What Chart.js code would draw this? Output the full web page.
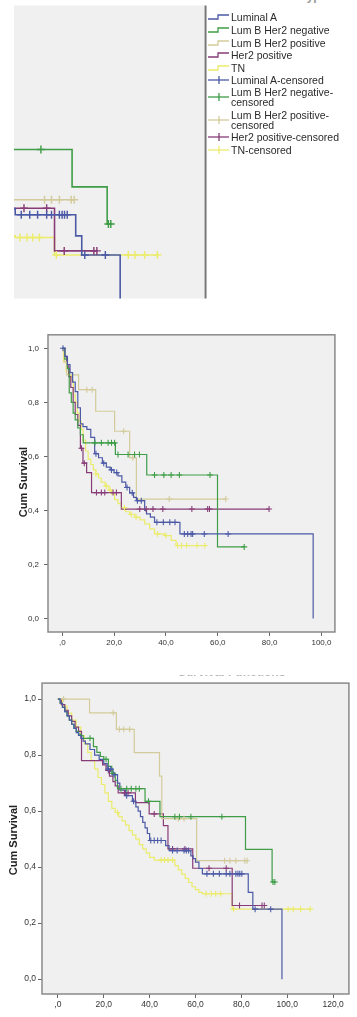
<!DOCTYPE html>
<html>
<head>
<meta charset="utf-8">
<script src="https://cdn.jsdelivr.net/npm/chart.js@4"></script>
<style>
  html, body { margin:0; padding:0; background:#fff; }
  body { width:357px; height:1017px; position:relative; overflow:hidden; font-family:"Liberation Sans", Arial, sans-serif; }
  canvas { position:absolute; }
  .lg { position:absolute; left:208px; display:flex; align-items:center; }
  .lg svg { flex:none; }
  .lg .t { margin-left:1px; font-size:10.5px; line-height:10px; color:#2a2a2a; width:126px; }
  .ylab { position:absolute; font-weight:bold; font-size:11px; color:#222; white-space:nowrap; transform:translate(-50%,-50%) rotate(-90deg); }
</style>
</head>
<body>
<canvas id="c1" width="210" height="304" style="left:0;top:0;width:210px;height:304px"></canvas>
<canvas id="c2" width="340" height="325" style="left:0;top:325px;width:340px;height:325px"></canvas>
<canvas id="c3" width="354" height="341" style="left:0;top:676px;width:354px;height:341px"></canvas>

<div style="position:absolute;left:222px;top:-10px;font-weight:bold;font-size:12px;line-height:12px;color:#999;white-space:nowrap">Molecular subtype</div>
<div style="position:absolute;left:178px;top:675px;width:112px;height:4px;overflow:hidden">
  <div style="position:relative;top:-9px;font-weight:bold;font-size:12px;line-height:12px;color:#b4b4b4;white-space:nowrap">Survival Functions</div>
</div>
<div class="ylab" style="left:23px;top:482px">Cum Survival</div>
<div class="ylab" style="left:13px;top:840px">Cum Survival</div>
<div id="legend"></div>

<script>
// ---------- categories ----------
const groups = ['Luminal A', 'Lum B Her2 negative', 'Lum B Her2 positive', 'Her2 positive', 'TN'];
const legendLabels = ['Luminal A', 'Lum B Her2 negative', 'Lum B Her2 positive', 'Her2 positive', 'TN',
  'Luminal A-censored', 'Lum B Her2 negative-censored', 'Lum B Her2 positive-censored',
  'Her2 positive-censored', 'TN-censored'];

// ---------- middle plot (event times, survival after event, censor times) ----------
const midLumA_t = [0, 1, 2, 3, 4, 5, 6, 7, 8, 9.5, 11, 12.5, 14, 15.5, 17, 18.5, 20, 21.5, 23, 24.5, 26, 27.5, 28.6, 31.8, 32.5, 34, 35.6, 45.4, 96.8];
const midLumA_s = [1.0, .97, .94, .91, .875, .84, .78, .72, .71, .70, .67, .61, .595, .575, .56, .55, .54, .528, .505, .485, .465, .448, .436, .40, .387, .375, .356, .313, 0];
const midLumA_c = [0.3, 13, 16, 19, 21, 25, 27, 29, 30.5, 36.5, 39, 41.5, 43.5, 47.1, 48.4, 49.7, 50.3, 54.8, 64];

const midLumBneg_t = [0, 1, 2, 2.7, 3.5, 4.2, 5, 6, 7, 8.1, 20.5, 32.6, 59.9];
const midLumBneg_s = [1.0, .96, .925, .835, .80, .76, .735, .705, .68, .65, .607, .531, .265];
const midLumBneg_c = [12.6, 15.1, 17.7, 19, 20.2, 21.5, 25.4, 27.9, 29.8, 35.6, 39.2, 42, 45.2, 57, 70.2];

const midLumBpos_t = [0, 0.8, 1.7, 6.3, 12.9, 20.2, 26, 28.6];
const midLumBpos_s = [1.0, .95, .902, .847, .767, .693, .595, .442];
const midLumBpos_c = [9.5, 11.5, 23.7, 27.2, 41.3, 63.1];

const midHer2_t = [0, 1, 1.7, 2.5, 3.3, 4.2, 5, 6, 7, 8, 9.4, 11.3, 22.8];
const midHer2_s = [1.0, .97, .935, .895, .855, .80, .755, .715, .63, .575, .54, .466, .405];
const midHer2_c = [7.4, 8.5, 13.2, 15.1, 16.4, 19.6, 20.9, 29.9, 32.4, 35, 38.8, 50, 56.1, 56.8, 79.8];

const midTN_t = [0, 0.5, 1.5, 2.5, 3.5, 4.3, 5, 5.8, 6.5, 7.3, 8, 9, 10, 11, 12, 13, 14, 15, 16.5, 18, 19, 20.2, 21.5, 22.8, 24.5, 26, 28, 30, 31.8, 33.7, 35.6, 39.5, 42, 43.9];
const midTN_s = [1.0, .95, .915, .9, .88, .83, .8, .76, .73, .70, .66, .62, .59, .57, .55, .535, .52, .505, .49, .475, .46, .44, .425, .41, .395, .385, .375, .365, .35, .332, .313, .307, .289, .27];
const midTN_c = [13, 17, 18.5, 24, 26.6, 28.5, 36.8, 40, 44.5, 46, 48, 52, 55];

// ---------- bottom plot (the top crop shows a zoom of this plot) ----------
const botLumA_t = [0, 1, 2, 3, 4, 5, 6, 7, 8, 9, 10, 11, 12, 14, 16, 18, 20, 21.5, 24, 26, 27, 29.5, 32.5, 34, 35, 36, 37, 38, 39, 40, 47, 48.5, 58, 59, 60, 61.5, 63, 83, 85, 97.7];
const botLumA_s = [1.0, .985, .97, .955, .94, .925, .91, .895, .88, .87, .86, .85, .84, .82, .80, .785, .77, .75, .73, .70, .675, .655, .635, .615, .60, .58, .56, .54, .52, .495, .477, .459, .44, .43, .418, .395, .376, .31, .25, 0];
const botLumA_c = [22, 23, 24.5, 30, 33, 40.5, 42, 43.5, 45, 50, 52, 55, 56, 57, 65, 67.8, 70.4, 73.4, 75, 77.6, 78.5, 79.3, 80.2, 86, 92.8];

const botLumBneg_t = [0, 1, 2, 3, 4, 5, 6, 7, 8, 9, 10, 11, 15.5, 17, 18.5, 20, 22, 23.5, 25, 26, 38, 44.5, 81.8, 93.4];
const botLumBneg_s = [1.0, .985, .97, .955, .94, .925, .91, .895, .885, .875, .87, .86, .83, .81, .795, .785, .76, .735, .71, .68, .635, .58, .463, .347];
const botLumBneg_c = [14, 21, 24, 27.5, 30, 32, 34, 35.5, 39.5, 51, 53, 58, 71.5, 93.8, 94.6];

const botLumBpos_t = [0, 13.8, 25.5, 33.3, 44.3, 45.3, 60.5];
const botLumBpos_s = [1.0, .951, .892, .809, .725, .573, .423];
const botLumBpos_c = [2.5, 24.1, 26.8, 28.7, 31.3, 52.5, 55, 72.7, 75, 77.6, 81.5, 82.5];

const botHer2_t = [0, 1.5, 3, 4.5, 6, 7.5, 9, 10.3, 19.5, 21, 22.5, 24, 25, 26.3, 33.8, 39.8, 46, 48, 58.8, 76];
const botHer2_s = [1.0, .98, .96, .94, .92, .90, .885, .78, .765, .745, .725, .705, .69, .665, .63, .59, .548, .465, .396, .263];
const botHer2_c = [22, 29, 30.6, 42, 50, 55.4, 65.9, 73.4, 79.2, 89, 90];

const botTN_t = [0, 2, 4, 6, 8, 10, 11.5, 13, 14.5, 16, 17.5, 19, 20.5, 22, 23.5, 25, 26.5, 28, 29.5, 31, 32.5, 34, 35.5, 37, 38.5, 40, 42, 51, 52.5, 54, 55.5, 57, 58.5, 60, 61.5, 63, 76];
const botTN_s = [1.0, .975, .95, .925, .9, .87, .84, .81, .78, .75, .72, .695, .665, .635, .61, .595, .58, .565, .55, .53, .515, .5, .48, .465, .45, .435, .425, .405, .39, .375, .36, .345, .33, .32, .31, .305, .25];
const botTN_c = [26, 45, 46.5, 48, 50, 64.6, 66.9, 68.8, 71, 76.6, 100.4, 102.6, 105.8, 110];

// ---------- ticks ----------
const yTicks = [0, 0.2, 0.4, 0.6, 0.8, 1.0];
const xTicksMid = [0, 20, 40, 60, 80, 100];
const xTicksBot = [0, 20, 40, 60, 80, 100, 120];

const colors = ['#4b59a6', '#3f9d47', '#d3cb9b', '#873c77', '#ebeb6c'];

const midSeries = [
  [midLumA_t, midLumA_s, midLumA_c], [midLumBneg_t, midLumBneg_s, midLumBneg_c],
  [midLumBpos_t, midLumBpos_s, midLumBpos_c], [midHer2_t, midHer2_s, midHer2_c], [midTN_t, midTN_s, midTN_c]];
const botSeries = [
  [botLumA_t, botLumA_s, botLumA_c], [botLumBneg_t, botLumBneg_s, botLumBneg_c],
  [botLumBpos_t, botLumBpos_s, botLumBpos_c], [botHer2_t, botHer2_s, botHer2_c], [botTN_t, botTN_s, botTN_c]];

function survAt(ts, ss, t) {
  let v = ss[0];
  for (let i = 0; i < ts.length; i++) if (ts[i] <= t) v = ss[i];
  return v;
}

function buildDatasets(series, lw, pr) {
  const lines = [], marks = [];
  series.forEach(([ts, ss, cs], i) => {
    const pts = ts.map((t, k) => ({x: t, y: ss[k]}));
    const lastC = cs.length ? Math.max(...cs) : -1;
    if (lastC > ts[ts.length - 1]) pts.push({x: lastC, y: ss[ss.length - 1]});
    lines.push({label: groups[i], data: pts, stepped: 'before', borderColor: colors[i], borderWidth: lw,
      pointRadius: 0, fill: false, tension: 0});
    marks.push({label: groups[i] + '-censored', data: cs.map(t => ({x: t, y: survAt(ts, ss, t)})),
      showLine: false, pointStyle: 'cross', pointRadius: pr, pointBorderColor: colors[i],
      pointBorderWidth: lw * 0.9, borderColor: colors[i]});
  });
  const out = [];
  for (let i = 0; i < series.length; i++) { out.push(marks[i]); }
  for (let i = 0; i < series.length; i++) { out.push(lines[i]); }
  return out;
}

const boxPlugin = {
  id: 'box',
  beforeDraw(chart, args, o) {
    const {ctx, chartArea: a} = chart;
    ctx.save();
    ctx.fillStyle = o.bg || '#f0f0f0';
    ctx.fillRect(a.left, a.top, a.right - a.left, a.bottom - a.top);
    ctx.restore();
  },
  afterDraw(chart, args, o) {
    const {ctx, chartArea: a} = chart;
    ctx.save();
    if (o.border) {
      ctx.strokeStyle = o.border; ctx.lineWidth = 1.5;
      ctx.strokeRect(a.left, a.top, a.right - a.left, a.bottom - a.top);
    }
    if (o.rightLine) {
      ctx.strokeStyle = o.rightLine; ctx.lineWidth = 2;
      ctx.beginPath(); ctx.moveTo(a.right + 1, a.top); ctx.lineTo(a.right + 1, a.bottom); ctx.stroke();
    }
    ctx.restore();
  }
};

const fmtY = v => v.toFixed(1).replace('.', ',');
const fmtX = v => v === 0 ? ',0' : v.toFixed(1).replace('.', ',');

function axis(min, max, ticks, fmt, fit, isX, fontSize, pad) {
  return {
    type: 'linear', min, max,
    afterBuildTicks: ax => { ax.ticks = ticks.map(v => ({value: v})); },
    afterFit: s => { if (isX) s.height = fit; else s.width = fit; },
    grid: {drawOnChartArea: false, drawTicks: true, tickLength: 4, color: '#666', lineWidth: 1},
    border: {display: false},
    ticks: {autoSkip: false, maxRotation: 0, padding: pad, color: '#333',
      font: {family: '"Liberation Sans", Arial, sans-serif', size: fontSize}, callback: fmt}
  };
}

function makeChart(id, series, opts) {
  return new Chart(document.getElementById(id), {
    type: 'line',
    data: {datasets: buildDatasets(series, opts.lw, opts.pr)},
    options: {
      responsive: false, animation: false, devicePixelRatio: 1, events: [],
      layout: {padding: opts.padding},
      plugins: {legend: {display: false}, tooltip: {enabled: false}, box: opts.box},
      scales: opts.scales
    },
    plugins: [boxPlugin]
  });
}

// top: zoomed crop of the bottom plot, no axes
makeChart('c1', botSeries, {
  lw: 1.6, pr: 4,
  padding: {left: 14, right: 3, top: 0, bottom: 2},
  box: {bg: '#f0f0f0', rightLine: '#777'},
  scales: {
    x: {type: 'linear', min: 62.6, max: 125.6, display: false},
    y: {type: 'linear', min: 0.114, max: 1.03, display: false}
  }
});

makeChart('c2', midSeries, {
  lw: 1.2, pr: 3,
  padding: {left: 0, right: 4, top: 8, bottom: 0},
  box: {bg: '#f0f0f0', border: '#8a8a8a'},
  scales: {
    x: axis(-5.5, 105.2, xTicksMid, fmtX, 18, true, 8, 2),
    y: axis(-0.05, 1.05, yTicks, fmtY, 48, false, 8, 5)
  }
});

makeChart('c3', botSeries, {
  lw: 1.2, pr: 3,
  padding: {left: 0, right: 3, top: 6, bottom: 0},
  box: {bg: '#f0f0f0', border: '#8a8a8a'},
  scales: {
    x: axis(-6.93, 126.9, xTicksBot, fmtX, 23, true, 8.5, 2),
    y: axis(-0.053, 1.057, yTicks, fmtY, 42, false, 8.5, 2)
  }
});

// legend
const legendCenters = [16.5, 29.5, 42.5, 55, 67.5, 80, 97, 119.5, 137, 149.5];
const legendLines = [['Luminal A'], ['Lum B Her2 negative'], ['Lum B Her2 positive'], ['Her2 positive'], ['TN'],
  ['Luminal A-censored'], ['Lum B Her2 negative-', 'censored'], ['Lum B Her2 positive-', 'censored'],
  ['Her2 positive-censored'], ['TN-censored']];
const lg = document.getElementById('legend');
legendLabels.forEach((lab, i) => {
  const c = colors[i % 5];
  const lines = legendLines[i];
  const h = lines.length * 10;
  const d = document.createElement('div');
  d.className = 'lg';
  d.style.top = (legendCenters[i] - h / 2) + 'px';
  d.style.height = h + 'px';
  const sym = i < 5
    ? `<polyline points="0,7 10,7 10,3 21,3" fill="none" stroke="${c}" stroke-width="1.3"/>`
    : `<line x1="0" y1="5" x2="21" y2="5" stroke="${c}" stroke-width="1.3"/><line x1="11" y1="1" x2="11" y2="9" stroke="${c}" stroke-width="1.3"/>`;
  d.innerHTML = `<svg width="22" height="10" viewBox="0 0 22 10">${sym}</svg><div class="t">${lines.join('<br>')}</div>`;
  d.title = lab;
  lg.appendChild(d);
});
</script>
</body>
</html>
